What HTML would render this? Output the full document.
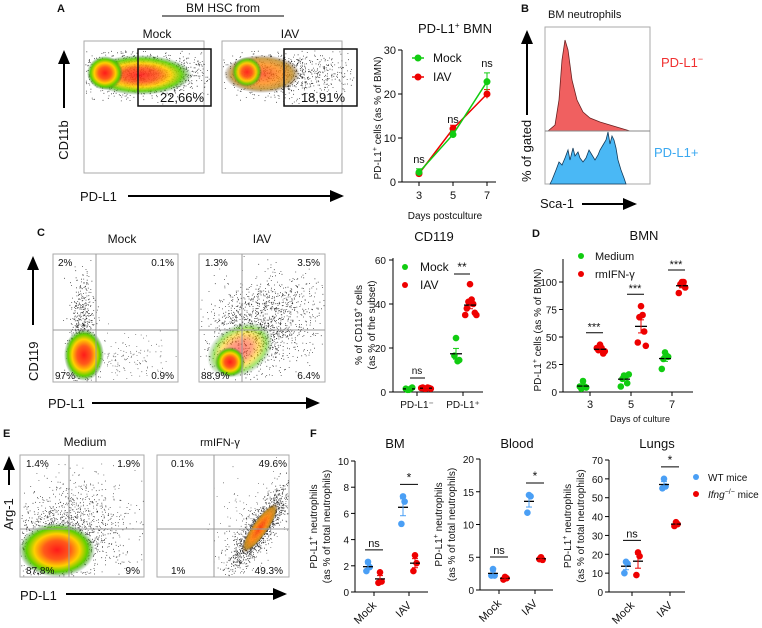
<!DOCTYPE html>
<html><head><meta charset="utf-8"><style>
body{margin:0;background:#fff}
svg{display:block;font-family:"Liberation Sans",Arial,sans-serif}
text{fill:#111}
</style></head><body>
<svg id="fig" width="762" height="628" viewBox="0 0 762 628">
<defs>
<radialGradient id="heat" cx="50%" cy="50%" r="50%">
<stop offset="0" stop-color="#ff1a1a"/><stop offset="0.35" stop-color="#ff5a1a"/><stop offset="0.6" stop-color="#ffd000"/><stop offset="0.8" stop-color="#5fd000"/><stop offset="1" stop-color="#1a6a1a" stop-opacity="0"/></radialGradient>
<radialGradient id="heat2" cx="50%" cy="50%" r="50%">
<stop offset="0" stop-color="#ff4010"/><stop offset="0.5" stop-color="#ff8a10"/><stop offset="0.8" stop-color="#c08a20"/><stop offset="1" stop-color="#402000" stop-opacity="0"/></radialGradient>
<marker id="ah" markerWidth="8" markerHeight="8" refX="6" refY="3" orient="auto"><path d="M0,0 L7,3 L0,6 z" fill="#000"/></marker>
</defs>
<g id="flow"></g>
<g id="charts"></g>
</svg>
<script>
// ---------- data ----------
const aDays=[3,5,7];
const aMock=[2.2,10.8,22.8];
const aIAV=[1.9,12.1,20.0];
const aMockErr=[0.8,0.8,2.0];
const aIAVErr=[0.6,0.8,1.0];
const aTicks=[0,10,20,30];

const cCats=["PD-L1\u207B","PD-L1\u207A"];
const cMockNeg=[1,1.5,1,2,1.5];
const cIAVNeg=[1.5,2,1.5,1.8,2,1.5,1.8];
const cMockPos=[24.5,14,16.5,14.5];
const cIAVPos=[49,42,41,40,38,36,35,35];
const cTicks=[0,20,40,60];

const dDays=[3,5,7];
const dMedium=[[10,5,3,4,5],[15,14,12,8,5,16],[36,33,30,32,21]];
const dIFN=[[43,40,38,35,40,37],[78,70,68,55,45,42],[100,100,98,95,90]];
const dTicks=[0,25,50,75,100];

const fGroups=["Mock","IAV"];
const fBM_WT=[[2.3,1.9,1.6],[7.3,6.9,5.2]];
const fBM_KO=[[1.5,0.8,0.7],[2.8,2.2,1.6]];
const fBM_Ticks=[0,2,4,6,8,10];
const fBl_WT=[[3.2,2.2,2.2],[14.5,14.3,11.8]];
const fBl_KO=[[2,1.8,1.6],[5,4.6,4.7]];
const fBl_Ticks=[0,5,10,15,20];
const fLu_WT=[[16,15,10],[60,56,55]];
const fLu_KO=[[21,19,9],[37,36,35]];
const fLu_Ticks=[0,10,20,30,40,50,60,70];

const NS="http://www.w3.org/2000/svg";
const flow=document.getElementById('flow');
const charts=document.getElementById('charts');
function el(tag,attrs,parent,txt){const e=document.createElementNS(NS,tag);for(const k in attrs)e.setAttribute(k,attrs[k]);if(txt!==undefined)e.textContent=txt;(parent||charts).appendChild(e);return e;}
function T(x,y,s,size,anchor,name,parent,extra){const t=el('text',Object.assign({x:x,y:y,'font-size':size||11,'text-anchor':anchor||'start'},extra||{}),parent,s);


return t;}
function L(x1,y1,x2,y2,w,c,p){return el('line',{x1:x1,y1:y1,x2:x2,y2:y2,stroke:c||'#000','stroke-width':w||1},p);}
function mean(a){return a.reduce((s,v)=>s+v,0)/a.length;}
function sem(a){const m=mean(a);return Math.sqrt(a.reduce((s,v)=>s+(v-m)*(v-m),0)/(a.length-1)/a.length);}

let seed=7;function rnd(){seed=(seed*16807)%2147483647;return seed/2147483647;}
function gauss(){return Math.sqrt(-2*Math.log(rnd()+1e-9))*Math.cos(2*Math.PI*rnd());}
function dots(cx,cy,sx,sy,n,rot,box,col){let d='';const c=Math.cos(rot),s=Math.sin(rot);
for(let i=0;i<n;i++){const a=gauss()*sx,b=gauss()*sy;const x=cx+a*c-b*s,y=cy+a*s+b*c;
if(x<box[0]+1||x>box[2]-1||y<box[1]+1||y>box[3]-1)continue;d+=`M${x.toFixed(1)},${y.toFixed(1)}h0.8`;}
const p=el('path',{d:d,stroke:col||'#222','stroke-width':0.8,fill:'none'},flow);

}
function blob(cx,cy,rx,ry,rot,grad,op){const e=el('ellipse',{cx:cx,cy:cy,rx:rx,ry:ry,fill:`url(#${grad})`,opacity:op||1,transform:`rotate(${rot} ${cx} ${cy})`},flow);

}
function box(x1,y1,x2,y2,name){const r=el('rect',{x:x1,y:y1,width:x2-x1,height:y2-y1,fill:'none',stroke:'#aaa','stroke-width':1},flow);

}
function quad(x1,y1,x2,y2,vx,hy){L(vx,y1,vx,y2,1,'#999',flow);L(x1,hy,x2,hy,1,'#999',flow);}

// ---------- Panel A flow ----------
T(57,12,"A",11,'start','panel-label-a',charts,{'font-weight':'bold'});
T(223,12,"BM HSC from",12,'middle','bm-hsc-from-title');
L(162,16,284,16,1,'#000');
T(157,38,"Mock",12,'middle','plot-title-mock-a');
T(290,38,"IAV",12,'middle','plot-title-iav-a');
box(84,41,204,173,'flow-plot-mock-a');box(222,41,342,173,'flow-plot-iav-a');
dots(140,74,35,11,1400,0,[84,50,210,106]);
blob(140,75,52,20,0,'heat',0.9);blob(105,73,18,17,0,'heat',1);
dots(285,74,33,11,900,0,[222,50,356,106]);
blob(262,74,38,19,0,'heat2',0.8);blob(247,72,15,15,0,'heat',0.9);
el('rect',{x:138,y:49,width:73,height:57,fill:'none',stroke:'#111','stroke-width':1.5},flow);
el('rect',{x:284,y:49,width:73,height:57,fill:'none',stroke:'#111','stroke-width':1.5},flow);
T(182,102,"22,66%",13,'middle','gate-pct-mock-a');
T(323,102,"18,91%",13,'middle','gate-pct-iav-a');
L(64,108,64,52,2,'#000').setAttribute('marker-end','url(#ah)');
T(68,140,"CD11b",13,'middle','y-axis-title-cd11b',charts,{transform:'rotate(-90 68 140)'});
T(80,201,"PD-L1",13,'start','x-axis-title-pdl1-a');
L(128,196,342,196,2,'#000').setAttribute('marker-end','url(#ah)');

// ---------- Panel A line chart ----------
(function(){const x=d=>419+(d-3)*17,y=v=>182-4.4*v;
T(455,33,"PD-L1",13,'middle','line-chart-title').innerHTML='PD-L1<tspan font-size="8" dy="-5">+</tspan><tspan dy="5"> BMN</tspan>';
L(402,50,402,182);L(402,182,496,182);
aTicks.forEach(t=>{L(398,y(t),402,y(t));T(396,y(t)+4,t,11,'end','y-tick-a');});
aDays.forEach(d=>{L(x(d),182,x(d),186);T(x(d),199,d,11,'middle','x-tick-a');});
T(445,219,"Days postculture",10,'middle','x-axis-title-days-postculture');
const yl=T(381,118,"",10,'middle','y-axis-title-a',charts,{transform:'rotate(-90 381 118)'});yl.innerHTML='PD-L1<tspan font-size="7" dy="-4">+</tspan><tspan dy="4"> cells (as % of BMN)</tspan>';
[[aIAV,aIAVErr,'#e00','iav'],[aMock,aMockErr,'#1c1','mock']].forEach(([v,e,c,n])=>{
const pl=el('polyline',{points:aDays.map((d,i)=>x(d)+','+y(v[i])).join(' '),fill:'none',stroke:c,'stroke-width':1.5});


aDays.forEach((d,i)=>{L(x(d),y(v[i]-e[i]),x(d),y(v[i]+e[i]),1,c);L(x(d)-3,y(v[i]+e[i]),x(d)+3,y(v[i]+e[i]),1,c);
const p=el('circle',{cx:x(d),cy:y(v[i]),r:3.5,fill:c});

});});
aDays.forEach((d,i)=>T(x(d),y(Math.max(aMock[i]+aMockErr[i],aIAV[i]))-6,"ns",11,'middle','sig-ns-a'));
L(412,58,424,58,1.5,'#1c1');el('circle',{cx:418,cy:58,r:3.5,fill:'#1c1'});T(433,62,"Mock",12,'start','legend-mock-a');
L(412,77,424,77,1.5,'#e00');el('circle',{cx:418,cy:77,r:3.5,fill:'#e00'});T(433,81,"IAV",12,'start','legend-iav-a');
})();

// ---------- Panel B ----------
T(521,12,"B",11,'start','panel-label-b',charts,{'font-weight':'bold'});
T(548,18,"BM neutrophils",11,'start','histogram-title');
box(545,27,650,184,'histogram-frame');
(function(){const r=el('path',{d:"M548,131 L555,125 L559,100 L562,60 L565,40 L568,50 L572,80 L577,100 L583,112 L590,118 L600,122 L610,125 L620,128 L630,131 L650,131 Z",fill:'#f06060',stroke:'#6a2020','stroke-width':0.8},flow);


let d="M550,184";const pk=[[552,180],[556,170],[559,162],[562,165],[565,158],[568,150],[570,160],[573,148],[575,156],[578,152],[580,158],[583,162],[586,158],[589,150],[592,155],[595,160],[598,155],[600,150],[603,145],[606,140],[608,132],[610,144],[612,136],[614,140],[616,148],[618,160],[621,170],[624,178],[626,184]];pk.forEach(p=>d+=` L${p[0]},${p[1]}`);d+=" Z";
const b=el('path',{d:d,fill:'#4ab8f5',stroke:'#123a5a','stroke-width':0.8},flow);

})();
L(545,131,650,131,1,'#888');
const pn=T(661,67,"",13,'start','label-pdl1-neg',charts,{fill:'#f03030'});pn.innerHTML='PD-L1<tspan dy="-5" font-size="9">\u2212</tspan>';pn.style.fill='#f03030';
const pp=T(654,157,"PD-L1+",13,'start','label-pdl1-pos');pp.style.fill='#3aa8f0';
L(527,115,527,32,2,'#000').setAttribute('marker-end','url(#ah)');
T(531,182,"% of gated",13,'start','y-axis-title-gated',charts,{transform:'rotate(-90 531 182)'});
T(540,208,"Sca-1",13,'start','x-axis-title-sca1');
L(582,204,635,204,2,'#000').setAttribute('marker-end','url(#ah)');

// ---------- Panel C flow ----------
T(37,236,"C",11,'start','panel-label-c',charts,{'font-weight':'bold'});
T(122,243,"Mock",12,'middle','plot-title-mock-c');T(262,243,"IAV",12,'middle','plot-title-iav-c');
box(53,254,178,382,'flow-plot-mock-c');box(199,254,325,382,'flow-plot-iav-c');
dots(82,335,6,30,700,0,[53,254,178,382]);dots(120,360,25,12,180,0,[53,254,178,382],'#555');
blob(84,355,20,26,0,'heat',1);
dots(262,325,30,22,1500,-0.5,[199,254,325,382]);
blob(240,350,35,25,-30,'heat',0.55);blob(230,362,15,15,0,'heat',1);
quad(53,254,178,382,96,330);quad(199,254,325,382,242,330);
T(58,266,"2%",10,'start','quad-c-mock-ul');T(174,266,"0.1%",10,'end','quad-c-mock-ur');T(55,379,"97%",10,'start','quad-c-mock-ll');T(174,379,"0.9%",10,'end','quad-c-mock-lr');
T(205,266,"1.3%",10,'start','quad-c-iav-ul');T(320,266,"3.5%",10,'end','quad-c-iav-ur');T(201,379,"88.9%",10,'start','quad-c-iav-ll');T(320,379,"6.4%",10,'end','quad-c-iav-lr');
L(33,325,33,258,2,'#000').setAttribute('marker-end','url(#ah)');
T(38,381,"CD119",13,'start','y-axis-title-cd119',charts,{transform:'rotate(-90 38 381)'});
T(48,408,"PD-L1",13,'start','x-axis-title-pdl1-c');
L(92,403,318,403,2,'#000').setAttribute('marker-end','url(#ah)');

function scatter(vals,cx,col,name,y,wide){vals.forEach((v,i)=>{const off=(i%2?1:-1)*Math.ceil(i/2)*1.6;
const c=el('circle',{cx:cx+off,cy:y(v),r:3.3,fill:col});

});
const m=mean(vals),s=sem(vals);L(cx-(wide||6),y(m),cx+(wide||6),y(m),1.3,'#000');
L(cx,y(m-s),cx,y(m+s),1,col);L(cx-3,y(m+s),cx+3,y(m+s),1,col);L(cx-3,y(m-s),cx+3,y(m-s),1,col);}

// ---------- Panel C chart ----------
(function(){const y=v=>392-2.2*v;const cx=[417,463];
T(434,241,"CD119",13,'middle','chart-title-cd119');
L(393,258,393,392);L(393,392,483,392);
cTicks.forEach(t=>{L(389,y(t),393,y(t));T(386,y(t)+4,t,10,'end','y-tick-c');});
cCats.forEach((c,i)=>{L(cx[i],392,cx[i],396);T(cx[i],408,c,10,'middle','x-tick-c');});
const y1=T(362,325,"",10,'middle','y-axis-title-c1',charts,{transform:'rotate(-90 362 325)'});y1.innerHTML='% of CD119<tspan font-size="7" dy="-4">+</tspan><tspan dy="4"> cells</tspan>';
T(375,325,"(as % of the subset)",10,'middle','y-axis-title-c2',charts,{transform:'rotate(-90 375 325)'});
scatter(cMockNeg,cx[0]-8,'#1c1','point-c-mock-neg',y);scatter(cIAVNeg,cx[0]+9,'#e00','point-c-iav-neg',y);
scatter(cMockPos,cx[1]-7,'#1c1','point-c-mock-pos',y);scatter(cIAVPos,cx[1]+7,'#e00','point-c-iav-pos',y);
L(410,378,425,378);T(417,374,"ns",10,'middle','sig-ns-c');
L(454,274,470,274);T(462,271,"**",12,'middle','sig-star-c');
el('circle',{cx:405,cy:267,r:3,fill:'#1c1'});T(420,271,"Mock",12,'start','legend-mock-c');
el('circle',{cx:405,cy:285,r:3,fill:'#e00'});T(420,289,"IAV",12,'start','legend-iav-c');
})();

// ---------- Panel D chart ----------
(function(){const y=v=>392-1.1*v;const x=d=>590+(d-3)*20.5;
T(532,237,"D",11,'start','panel-label-d',charts,{'font-weight':'bold'});
T(644,240,"BMN",13,'middle','chart-title-bmn');
L(563,259,563,392);L(563,392,693,392);
dTicks.forEach(t=>{L(559,y(t),563,y(t));T(557,y(t)+4,t,10,'end','y-tick-d');});
dDays.forEach(d=>{L(x(d),392,x(d),396);T(x(d),408,d,11,'middle','x-tick-d');});
const yl=T(541,330,"",10,'middle','y-axis-title-d',charts,{transform:'rotate(-90 541 330)'});yl.innerHTML='PD-L1<tspan font-size="7" dy="-4">+</tspan><tspan dy="4"> cells (as % of BMN)</tspan>';
T(640,422,"Days of culture",9,'middle','x-axis-title-days-culture');
dDays.forEach((d,i)=>{scatter(dMedium[i],x(d)-7,'#1c1','point-d-medium-day'+d,y);scatter(dIFN[i],x(d)+10,'#e00','point-d-ifn-day'+d,y);
const top=Math.max(...dIFN[i]);L(x(d)-4,y(top)-12,x(d)+13,y(top)-12);T(x(d)+4,y(top)-14,"***",11,'middle','sig-star-d');});
el('circle',{cx:581,cy:256,r:3,fill:'#1c1'});T(595,260,"Medium",11,'start','legend-medium');
el('circle',{cx:581,cy:274,r:3,fill:'#e00'});T(595,278,"rmIFN-\u03B3",11,'start','legend-rmifn');
})();

// ---------- Panel E flow ----------
T(3,437,"E",11,'start','panel-label-e',charts,{'font-weight':'bold'});
T(85,446,"Medium",12,'middle','plot-title-medium');T(220,446,"rmIFN-\u03B3",11,'middle','plot-title-rmifn');
box(20,455,144,577,'flow-plot-medium-e');box(157,455,289,577,'flow-plot-rmifn-e');
dots(60,540,30,22,1400,-0.2,[20,455,144,577]);dots(80,515,25,25,300,-0.6,[20,455,144,577],'#444');
blob(57,550,38,27,0,'heat',1);
dots(258,530,25,7,1300,-0.95,[157,455,289,577]);dots(250,520,25,18,150,-0.9,[157,455,289,577],'#555');
blob(260,528,30,8,-55,'heat2',0.95);
quad(20,455,144,577,69,529);quad(157,455,289,577,214,529);
T(26,467,"1.4%",10,'start','quad-e-med-ul');T(140,467,"1.9%",10,'end','quad-e-med-ur');T(26,574,"87,8%",10,'start','quad-e-med-ll');T(140,574,"9%",10,'end','quad-e-med-lr');
T(171,467,"0.1%",10,'start','quad-e-ifn-ul');T(287,467,"49.6%",10,'end','quad-e-ifn-ur');T(171,574,"1%",10,'start','quad-e-ifn-ll');T(283,574,"49.3%",10,'end','quad-e-ifn-lr');
L(9,485,9,458,2,'#000').setAttribute('marker-end','url(#ah)');
T(13,530,"Arg-1",13,'start','y-axis-title-arg1',charts,{transform:'rotate(-90 13 530)'});
T(20,600,"PD-L1",13,'start','x-axis-title-pdl1-e');
L(66,594,285,594,2,'#000').setAttribute('marker-end','url(#ah)');

// ---------- Panel F ----------
T(310,437,"F",11,'start','panel-label-f',charts,{'font-weight':'bold'});
function fchart(ax,top,bot,maxV,ticks,wt,ko,cx,endX,title,tx,key,sigs){
const y=v=>bot-(bot-top)*v/maxV;
T(tx,448,title,13,'middle','chart-title-'+key);
L(ax,top,ax,bot);L(ax,bot,endX,bot);
ticks.forEach(t=>{L(ax-4,y(t),ax,y(t));T(ax-6,y(t)+4,t,10,'end','y-tick-'+key);});
fGroups.forEach((g,i)=>{L(cx[i],bot,cx[i],bot+4);T(cx[i]+3,bot+14,g,11,'end','x-tick-'+key,charts,{transform:`rotate(-45 ${cx[i]+3} ${bot+14})`});
scatter(wt[i],cx[i]-6,'#4a9ff5','point-'+key+'-wt-'+g,y,5);scatter(ko[i],cx[i]+6,'#e00','point-'+key+'-ko-'+g,y,5);
const tp=Math.max(...wt[i],...ko[i]);const ly=y(tp)-12;L(cx[i]-9,ly,cx[i]+9,ly);T(cx[i],ly-3,sigs[i],sigs[i]=='*'?12:11,'middle','sig-'+key);});
const l1=T(ax-38,(top+bot)/2,"",10,'middle','y-axis-title-'+key,charts,{transform:`rotate(-90 ${ax-38} ${(top+bot)/2})`});l1.innerHTML='PD-L1<tspan font-size="7" dy="-4">+</tspan><tspan dy="4"> neutrophils</tspan>';
T(ax-25,(top+bot)/2,"(as % of total neutrophils)",10,'middle','y-axis-title2-'+key,charts,{transform:`rotate(-90 ${ax-25} ${(top+bot)/2})`});
}
fchart(355,461,592,10,fBM_Ticks,fBM_WT,fBM_KO,[374,409],428,"BM",395,'bm',['ns','*']);
fchart(480,459,590,20,fBl_Ticks,fBl_WT,fBl_KO,[499,535],553,"Blood",517,'blood',['ns','*']);
fchart(609,460,592,70,fLu_Ticks,fLu_WT,fLu_KO,[632,670],685,"Lungs",657,'lungs',['ns','*']);
el('circle',{cx:696,cy:477,r:3,fill:'#4a9ff5'});T(708,481,"WT mice",10,'start','legend-wt-mice');
el('circle',{cx:696,cy:494,r:3,fill:'#e00'});const ko=T(708,498,"",10,'start','legend-ifng-mice');ko.innerHTML='<tspan font-style="italic">Ifng</tspan><tspan font-size="7" dy="-4">\u2212/\u2212</tspan><tspan dy="4"> mice</tspan>';
</script>
</body></html>
